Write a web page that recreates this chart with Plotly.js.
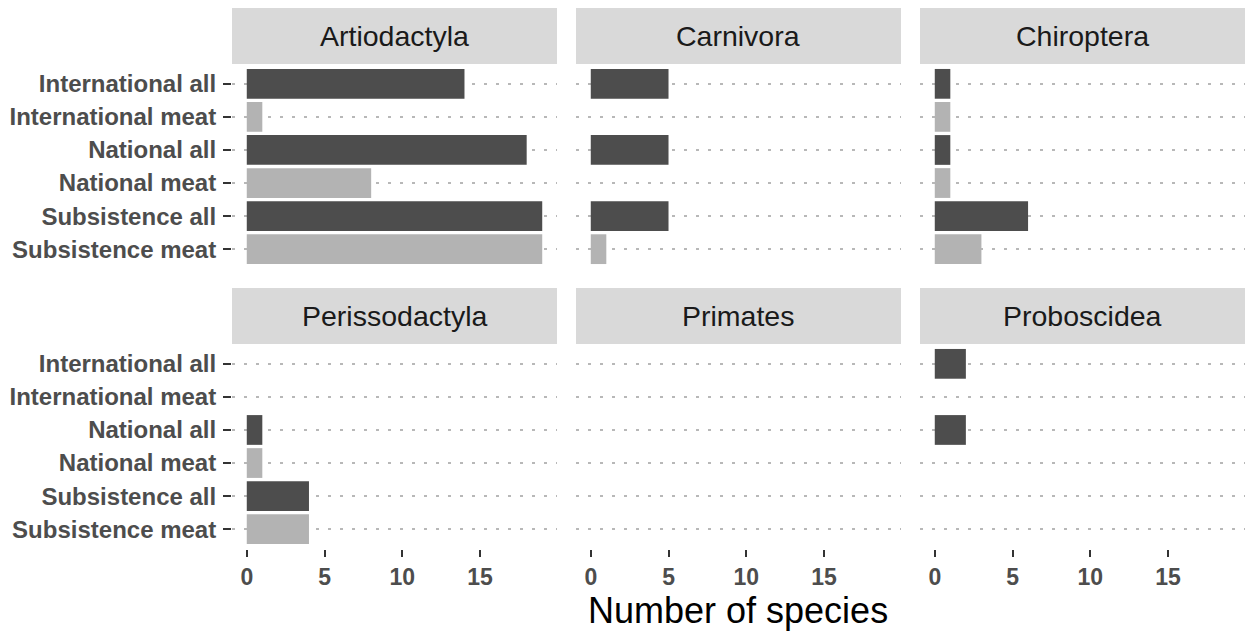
<!DOCTYPE html>
<html>
<head>
<meta charset="utf-8">
<script src="https://cdn.plot.ly/plotly-3.0.1.min.js"></script>
<style>
  html, body { margin: 0; padding: 0; background: #ffffff; }
  #chart { width: 1248px; height: 633px; }
</style>
</head>
<body>
<div id="chart"></div>
<script>
// ---- data ----
const panels = ['Artiodactyla', 'Carnivora', 'Chiroptera', 'Perissodactyla', 'Primates', 'Proboscidea'];
const categories = ['International all', 'International meat', 'National all', 'National meat', 'Subsistence all', 'Subsistence meat'];
const artiodactyla   = [14, 1, 18, 8, 19, 19];
const carnivora      = [5, 0, 5, 0, 5, 1];
const chiroptera     = [1, 1, 1, 1, 6, 3];
const perissodactyla = [0, 0, 1, 1, 4, 4];
const primates       = [0, 0, 0, 0, 0, 0];
const proboscidea    = [2, 0, 2, 0, 0, 0];
const xTickVals = [0, 5, 10, 15];
const xTitle = 'Number of species';

const seriesValues = [artiodactyla, carnivora, chiroptera, perissodactyla, primates, proboscidea];

// ---- layout geometry (pixels) ----
const W = 1248, H = 633;
const cols = [[232, 557], [576, 901], [920, 1245]];
const rows = [[64, 269], [344, 549]];      // panel top/bottom from top
const strips = [[8, 64], [288, 344]];
const FONT = 'Liberation Sans, Arial, sans-serif';
const DARK = '#4D4D4D', LIGHT = '#B3B3B3';

const px = v => v / W;
const py = v => 1 - v / H;

const traces = [];
const layout = {
  width: W, height: H,
  margin: {l: 0, r: 0, t: 0, b: 0},
  paper_bgcolor: '#ffffff',
  plot_bgcolor: '#ffffff',
  showlegend: false,
  font: {family: FONT, color: '#4D4D4D'},
  shapes: [],
  annotations: []
};

panels.forEach((name, i) => {
  const r = Math.floor(i / 3), c = i % 3;
  const n = i + 1;
  const xa = 'x' + (n === 1 ? '' : n);
  const ya = 'y' + (n === 1 ? '' : n);
  traces.push({
    type: 'bar',
    orientation: 'h',
    x: seriesValues[i],
    y: categories,
    xaxis: xa, yaxis: ya,
    width: 0.9,
    marker: {
      color: categories.map(cat => cat.endsWith('all') ? DARK : LIGHT),
      line: {width: 0}
    },
    hoverinfo: 'none'
  });
  const bottom = r === 1, left = c === 0;
  layout['xaxis' + (n === 1 ? '' : n)] = {
    domain: [px(cols[c][0]), px(cols[c][1])],
    anchor: ya,
    range: [-0.95, 19.95],
    tickvals: xTickVals,
    showgrid: false,
    zeroline: false,
    showline: false,
    ticks: bottom ? 'outside' : '',
    ticklen: 7, tickwidth: 2, tickcolor: '#333333',
    showticklabels: bottom,
    tickfont: {family: FONT, size: 23, color: '#4D4D4D', weight: 'bold'},
    fixedrange: true
  };
  layout['yaxis' + (n === 1 ? '' : n)] = {
    domain: [py(rows[r][1]), py(rows[r][0])],
    anchor: xa,
    type: 'category',
    categoryorder: 'array',
    categoryarray: categories,
    range: [5.6, -0.6],
    showgrid: true,
    gridcolor: '#B8B8B8',
    gridwidth: 2,
    griddash: '3px,9px',
    zeroline: false,
    showline: false,
    ticks: left ? 'outside' : '',
    ticklen: 8, tickwidth: 2, tickcolor: '#333333',
    ticklabelstandoff: 2,
    showticklabels: left,
    tickfont: {family: FONT, size: 24, color: '#4D4D4D', weight: 'bold'},
    fixedrange: true
  };
  // strip
  layout.shapes.push({
    type: 'rect', xref: 'paper', yref: 'paper', layer: 'below',
    x0: px(cols[c][0]), x1: px(cols[c][1]),
    y0: py(strips[r][1]), y1: py(strips[r][0]),
    fillcolor: '#D9D9D9', line: {width: 0}
  });
  layout.annotations.push({
    xref: 'paper', yref: 'paper',
    x: px((cols[c][0] + cols[c][1]) / 2),
    y: py((strips[r][0] + strips[r][1]) / 2),
    xanchor: 'center', yanchor: 'middle',
    text: name, showarrow: false,
    font: {family: FONT, size: 28.5, color: '#1A1A1A'}
  });
});

layout.annotations.push({
  xref: 'paper', yref: 'paper',
  x: px((cols[0][0] + cols[2][1]) / 2),
  y: py(610),
  xanchor: 'center', yanchor: 'middle',
  text: xTitle, showarrow: false,
  font: {family: FONT, size: 36, color: '#000000'}
});

Plotly.newPlot('chart', traces, layout, {displayModeBar: false, staticPlot: true});
</script>
</body>
</html>
